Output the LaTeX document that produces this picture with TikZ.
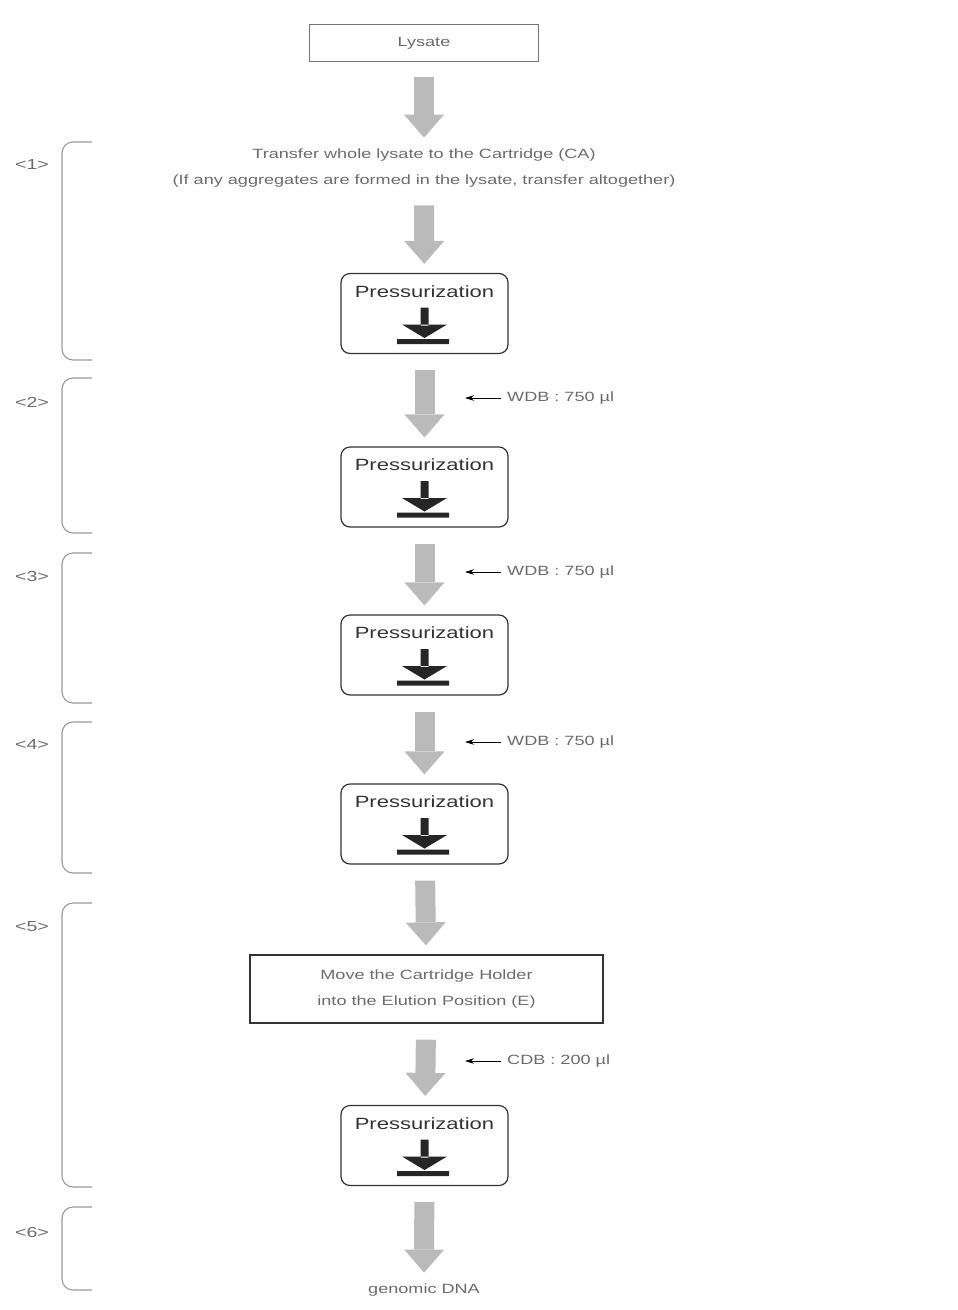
\documentclass[tikz,border=0pt]{standalone}
\usepackage{fontspec}
\setmainfont{Liberation Sans}[FakeStretch=1.35]
\usetikzlibrary{arrows.meta,positioning}

\tikzset{
  note/.style={text=black!58, font=\fontsize{13.4}{26}\selectfont, inner sep=2pt, align=center},
  pbox/.style={draw=black!80, line width=1.2pt, rounded corners=9pt, minimum width=167pt, minimum height=80pt},
  ptitle/.style={text=black!80, font=\fontsize{16.3}{20}\selectfont, inner sep=0pt},
  fat/.style={draw=black!27, line width=20pt, -{Triangle[width=40pt,length=23pt,line width=0pt]}, shorten <=16pt, shorten >=9pt},
  feed/.style={-{Stealth[length=9pt,width=5.5pt]}, line width=0.8pt, shorten <=4pt},
  grp/.style={draw=black!40, line width=1.1pt, rounded corners=11pt},
  tag/.style={text=black!58, font=\fontsize{14.5}{18}\selectfont}
}

\begin{document}
\begin{tikzpicture}[x=1pt, y=-1pt]
  \useasboundingbox (0,0) rectangle (958,1310);

  \node[note, draw=black!55, line width=0.9pt, minimum width=229pt, minimum height=37pt, text depth=2pt] (lys) at (424,42.5) {Lysate};
  \node[note] (xfer) at (424,168) {Transfer whole lysate to the Cartridge (CA)\\(If any aggregates are formed in the lysate, transfer altogether)};
  \node[note, draw=black!80, line width=1.3pt, minimum width=353pt, minimum height=68pt] (move) at (426.5,989) {Move the Cartridge Holder\\into the Elution Position (E)};
  \node[note] (dna) at (424,1290) {genomic DNA};

  % pressurization boxes
  \foreach \n/\y in {1/313.5,2/487,3/655,4/824,5/1145.5} {
    \node[pbox] (p\n) at (424.5,\y) {};
    \node[ptitle] (pt\n) at (424.5,\y-22) {Pressurization};
    \fill[black!85] (420.5,\y-6) rectangle (428.5,\y+12)
      (402,\y+11) -- (447,\y+11) -- (424.5,\y+24.5) -- cycle
      (397,\y+25.5) rectangle (449,\y+30.5);
  }

  \draw[fat] (lys) -- (xfer);
  \draw[fat] (xfer) -- (p1);
  \draw[fat] (p1) -- (p2);
  \draw[fat] (p2) -- (p3);
  \draw[fat] (p3) -- (p4);
  \draw[fat] (p4) -- (move);
  \draw[fat] (move) -- (p5);
  \draw[fat] (p5) -- (dna);

  % buffers added
  \foreach \n/\y/\t/\v in {a/398/WDB/750, b/572/WDB/750, c/742/WDB/750, d/1061/CDB/200} {
    \node[note, anchor=west] (f\n) at (505,\y) {\t\ :\ \v\ µl};
    \coordinate (fe\n) at (465,\y);
    \draw[feed] (f\n) -- (fe\n);
  }

  % step brackets
  \foreach \n/\t/\b/\l in {1/142/360/165, 2/378/533/402, 3/553/703/576, 4/722/873/745, 5/903/1187/927, 6/1207/1290/1232} {
    \draw[grp] (92,\t) -- (62,\t) -- (62,\b) -- (92,\b);
    \node[tag] (s\n) at (32,\l) {<\n>};
  }
\end{tikzpicture}
\end{document}
